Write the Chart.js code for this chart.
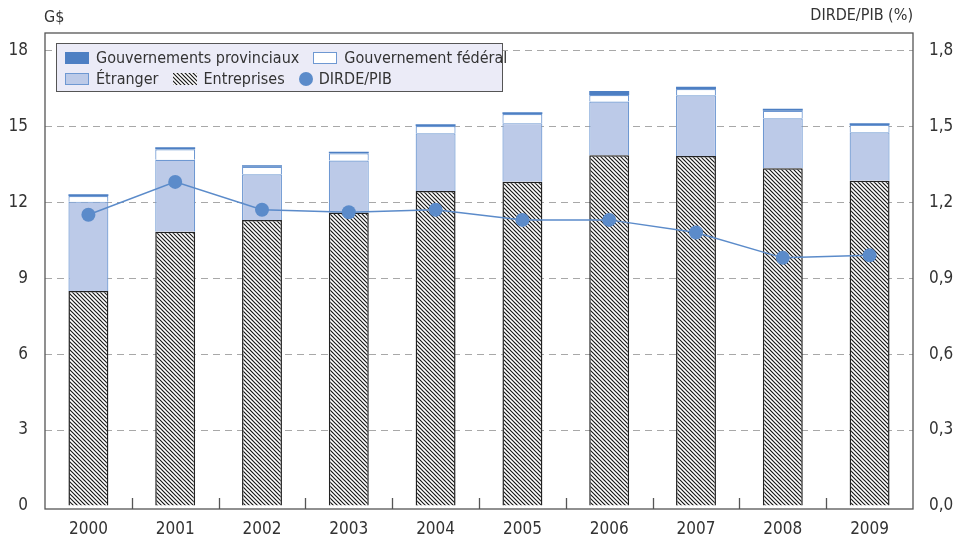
<!DOCTYPE html>
<html>
<head>
<meta charset="utf-8">
<script src="https://cdn.jsdelivr.net/npm/chart.js@4"></script>
<style>
  html, body { margin:0; padding:0; background:#fff; }
  #wrap { position:relative; width:958px; height:537px; font-family:'DejaVu Sans Condensed','DejaVu Sans',sans-serif; color:#333; }
  canvas { position:absolute; left:0; top:0; }
  .atitle { position:absolute; font-size:16px; line-height:20px; white-space:nowrap; }
  #legend { position:absolute; left:56px; top:43px; width:445px; height:47px; background:#ebebf7; border:1px solid #555; font-size:16px; }
  .row { display:flex; align-items:center; height:21px; padding-left:8px; }
  .row:first-child { margin-top:3px; }
  .item { display:flex; align-items:center; margin-right:14px; white-space:nowrap; }
  .sw { width:24px; height:12px; margin-right:7px; box-sizing:border-box; }
  .dot { width:14px; height:14px; border-radius:50%; margin-right:6px; }
</style>
</head>
<body>
<div id="wrap">
  <canvas id="c" width="958" height="537"></canvas>
  <div class="atitle" style="left:44px; top:7px;">G$</div>
  <div class="atitle" style="right:45px; top:5px;">DIRDE/PIB (%)</div>
  <div id="legend"></div>
</div>
<script>
const years = ['2000','2001','2002','2003','2004','2005','2006','2007','2008','2009'];
const entreprises = [8.49, 10.83, 11.30, 11.59, 12.44, 12.81, 13.85, 13.82, 13.34, 12.85];
const etranger    = [3.53, 2.84, 1.80, 2.05, 2.28, 2.31, 2.12, 2.40, 1.97, 1.91];
const federal     = [0.22, 0.42, 0.30, 0.29, 0.29, 0.36, 0.26, 0.25, 0.30, 0.29];
const provincial  = [0.07, 0.08, 0.06, 0.06, 0.07, 0.07, 0.16, 0.09, 0.08, 0.07];
const dirdePib    = [1.15, 1.28, 1.17, 1.16, 1.17, 1.13, 1.13, 1.08, 0.98, 0.99];
const leftTicks  = [0, 3, 6, 9, 12, 15, 18];
const rightTicks = [0, 0.3, 0.6, 0.9, 1.2, 1.5, 1.8];

const FONT = "'DejaVu Sans Condensed','DejaVu Sans',sans-serif";

function makeHatch() {
  const s = 8, step = 4;
  const c = document.createElement('canvas');
  c.width = s; c.height = s;
  const g = c.getContext('2d');
  g.fillStyle = '#fff'; g.fillRect(0,0,s,s);
  g.strokeStyle = '#1a1a1a'; g.lineWidth = 1.2;
  g.beginPath();
  for (let x0 = -2 * s; x0 <= 2 * s; x0 += step) { g.moveTo(x0 - 2, -2); g.lineTo(x0 + s + 2, s + 2); }
  g.stroke();
  return c;
}
const hatchCanvas = makeHatch();
const ctx = document.getElementById('c').getContext('2d');
const hatch = ctx.createPattern(hatchCanvas, 'repeat');

const BLUE_DARK = '#4d7fc3';
const BLUE_LINE = '#6e98d2';
const BLUE_FILL = '#bccae8';
const PT = '#5b8bca';

const framePlugin = {
  id: 'frame',
  afterDraw(chart) {
    const a = chart.chartArea, g = chart.ctx, x = chart.scales.x;
    g.save();
    g.strokeStyle = '#555'; g.lineWidth = 1.3;
    g.strokeRect(a.left, a.top, a.right - a.left, a.bottom - a.top);
    g.beginPath();
    for (let i = 0; i < years.length - 1; i++) {
      const px = (x.getPixelForValue(i) + x.getPixelForValue(i + 1)) / 2;
      g.moveTo(Math.round(px) + 0.5, a.bottom);
      g.lineTo(Math.round(px) + 0.5, a.bottom - 11);
    }
    g.stroke();
    g.restore();
  }
};

const chart = new Chart(ctx, {
  data: {
    labels: years,
    datasets: [
      { type:'line', label:'DIRDE/PIB', data: dirdePib, yAxisID:'y2', order:0,
        borderColor: PT, borderWidth:1.5, pointRadius:7, pointBackgroundColor: PT, pointBorderWidth:0, pointHoverRadius:7 },
      { type:'bar', label:'Entreprises', data: entreprises, yAxisID:'y', stack:'s', order:1,
        backgroundColor: hatch, borderColor:'#222', borderWidth:1.5, barPercentage:0.46, categoryPercentage:1 },
      { type:'bar', label:'Étranger', data: etranger, yAxisID:'y', stack:'s', order:1,
        backgroundColor: BLUE_FILL, borderColor: BLUE_LINE, borderWidth:1.2, barPercentage:0.46, categoryPercentage:1 },
      { type:'bar', label:'Gouvernement fédéral', data: federal, yAxisID:'y', stack:'s', order:1,
        backgroundColor:'#ffffff', borderColor: BLUE_LINE, borderWidth:1.2, barPercentage:0.46, categoryPercentage:1 },
      { type:'bar', label:'Gouvernements provinciaux', data: provincial, yAxisID:'y', stack:'s', order:1,
        backgroundColor: BLUE_DARK, borderColor: BLUE_DARK, borderWidth:0, barPercentage:0.46, categoryPercentage:1 }
    ]
  },
  options: {
    responsive:false, animation:false,
    layout:{ padding:{ top:33, left:0, right:0, bottom:0 } },
    plugins:{ legend:{ display:false }, tooltip:{ enabled:false } },
    scales:{
      x:{ stacked:true, offset:true,
        grid:{ display:false, drawTicks:false }, border:{ display:false },
        ticks:{ color:'#333', font:{ family:FONT, size:17 }, padding:10, maxRotation:0 },
        afterFit(s){ s.height = 28; } },
      y:{ stacked:true, position:'left', min:-0.118, max:18.68,
        afterBuildTicks(s){ s.ticks = leftTicks.map(v => ({ value:v })); },
        grid:{ drawTicks:false, color: c => c.tick && c.tick.value === 0 ? 'rgba(0,0,0,0)' : '#a8a8a8', lineWidth:1 },
        border:{ display:false, dash:[7,5] },
        ticks:{ color:'#333', font:{ family:FONT, size:17 }, padding:17, callback: v => String(v) },
        afterFit(s){ s.width = 45; } },
      y2:{ position:'right', min:-0.0118, max:1.868,
        afterBuildTicks(s){ s.ticks = rightTicks.map(v => ({ value:v })); },
        grid:{ display:false, drawTicks:false }, border:{ display:false },
        ticks:{ color:'#333', font:{ family:FONT, size:17 }, padding:16,
          callback: v => Number(v).toFixed(1).replace('.', ',') },
        afterFit(s){ s.width = 45; } }
    }
  },
  plugins:[framePlugin]
});

// HTML legend built from the datasets
const ds = chart.data.datasets;
const byLabel = l => ds.find(d => d.label === l);
const rows = [['Gouvernements provinciaux','Gouvernement fédéral'], ['Étranger','Entreprises','DIRDE/PIB']];
const leg = document.getElementById('legend');
rows.forEach(r => {
  const row = document.createElement('div'); row.className = 'row';
  r.forEach(l => {
    const d = byLabel(l);
    const it = document.createElement('div'); it.className = 'item';
    const sw = document.createElement('div');
    if (d.type === 'line') {
      sw.className = 'dot'; sw.style.background = d.pointBackgroundColor;
    } else if (l === 'Entreprises') {
      sw.className = 'sw';
      sw.style.background = 'url(' + hatchCanvas.toDataURL() + ')';
    } else {
      sw.className = 'sw';
      sw.style.background = d.backgroundColor;
      sw.style.border = '1.5px solid ' + d.borderColor;
    }
    const tx = document.createElement('span'); tx.textContent = l;
    it.appendChild(sw); it.appendChild(tx); row.appendChild(it);
  });
  leg.appendChild(row);
});
</script>
</body>
</html>
